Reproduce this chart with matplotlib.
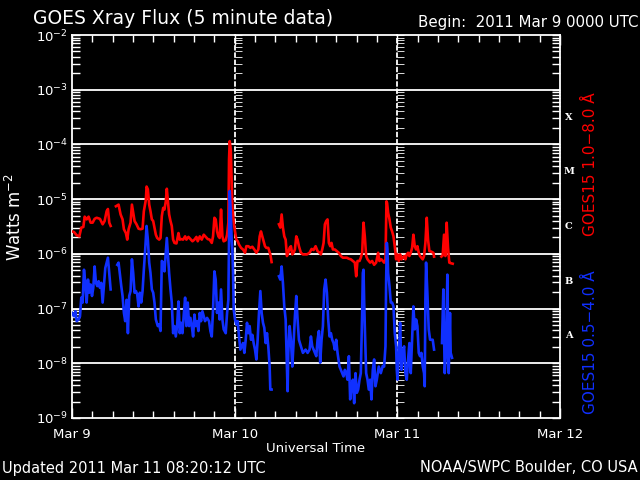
import numpy as np
import matplotlib
matplotlib.use("Agg")
import matplotlib.pyplot as plt
from matplotlib.ticker import LogLocator, NullFormatter, MultipleLocator

nan = np.nan

# hours after 2011 Mar 9 00:00 UT, log10 of flux (W m^-2); nan = data gap
long_t = [0.00, 0.29, 0.69, 1.08, 1.37, 1.67, 1.87, 2.16, 2.45, 2.75, 3.04, 3.34, 3.63, 4.12, 4.52,
          4.81, 5.11, 5.30, 5.50, 5.70, 6.00, 6.48, 6.87, 7.17, 7.46, 7.66, 7.95, 8.15, 8.35, 8.64,
          8.84, 9.03, 9.23, 9.52, 9.82, 10.11, 10.41, 10.60, 10.90, 11.00, 11.19, 11.39, 11.58, 11.78, 11.98,
          12.17, 12.37, 12.57, 12.86, 13.06, 13.25, 13.45, 13.64, 13.84, 13.99, 14.33, 14.53, 14.72, 14.92, 15.12,
          15.41, 15.71, 15.90, 16.10, 16.39, 16.69, 16.88, 17.18, 17.47, 17.77, 18.06, 18.36, 18.55, 18.85, 19.14,
          19.44, 19.73, 20.03, 20.32, 20.62, 20.81, 21.01, 21.20, 21.40, 21.60, 21.79, 21.99, 22.19, 22.38, 22.68,
          22.88, 23.07, 23.17, 23.27, 23.42, 23.56, 23.66, 23.86, 24.05, 24.25, 24.45, 24.64, 24.94, 25.23, 25.53,
          25.72, 26.02, 26.31, 26.61, 26.90, 27.20, 27.49, 27.69, 27.88, 28.08, 28.28, 28.47, 28.67, 28.96, 29.26,
          29.45, 30.00, 30.53, 30.73, 30.93, 31.12, 31.32, 31.52, 31.71, 31.91, 32.11, 32.30, 32.50, 32.69, 32.89,
          33.09, 33.28, 33.48, 33.77, 34.07, 34.46, 34.66, 35.05, 35.35, 35.64, 35.94, 36.23, 36.53, 36.72, 36.92,
          37.12, 37.31, 37.51, 37.70, 37.90, 38.10, 38.29, 38.49, 38.78, 39.08, 39.37, 39.67, 39.96, 40.26, 40.55,
          40.85, 41.14, 41.44, 41.73, 41.93, 42.12, 42.42, 42.61, 42.81, 43.01, 43.20, 43.40, 43.60, 43.79, 43.99,
          44.28, 44.58, 44.87, 45.17, 45.36, 45.66, 45.86, 46.05, 46.25, 46.40, 46.49, 46.64, 46.84, 47.03, 47.23,
          47.43, 47.62, 47.82, 48.02, 48.21, 48.41, 48.61, 48.80, 49.00, 49.19, 49.39, 49.59, 49.78, 49.98, 50.18,
          50.37, 50.57, 50.77, 50.96, 51.16, 51.35, 51.55, 51.75, 51.94, 52.14, 52.34, 52.53, 52.73, 53.02, 53.32,
          53.42, 54.00, 54.50, 54.69, 54.89, 55.09, 55.28, 55.48, 55.67, 55.87, 56.17]
long_log = [-5.59, -5.60, -5.66, -5.68, -5.52, -5.51, -5.32, -5.37, -5.32, -5.43, -5.43, -5.36, -5.34, -5.36, -5.46,
            -5.40, -5.22, -5.18, -5.43, -5.49, nan, -5.13, -5.10, -5.28, -5.37, -5.55, -5.62, -5.74, -5.55, -5.43,
            -5.10, -5.25, -5.40, -5.46, -5.54, -5.55, -5.54, -5.22, -5.01, -4.77, -4.82, -5.10, -5.22, -5.37, -5.40,
            -5.52, -5.65, -5.71, -5.74, -5.71, -5.31, -5.16, -5.19, -5.04, -4.81, -5.28, -5.40, -5.49, -5.74, -5.80,
            -5.81, -5.62, -5.74, -5.73, -5.74, -5.68, -5.74, -5.69, -5.73, -5.77, -5.74, -5.69, -5.77, -5.68, -5.74,
            -5.65, -5.69, -5.73, -5.74, -5.80, -5.68, -5.34, -5.37, -5.59, -5.68, -5.71, -5.19, -5.68, -5.77, -5.75,
            -5.65, -5.43, -4.27, -3.94, -4.09, -4.70, -5.13, -5.43, -5.59, -5.74, -5.77, -5.83, -5.89, -5.92, -5.98,
            -5.86, -5.86, -5.89, -5.87, -5.92, -5.98, -5.92, -5.68, -5.59, -5.68, -5.77, -5.86, -5.89, -5.89, -6.01,
            -6.15, nan, -5.46, -5.52, -5.28, -5.52, -5.68, -5.74, -6.04, -5.98, -5.89, -5.86, -6.01, -5.98, -5.92,
            -5.68, -5.74, -5.86, -5.98, -6.01, -6.01, -6.01, -5.98, -5.91, -5.93, -5.86, -5.95, -5.98, -6.01, -5.92,
            -5.80, -5.46, -5.40, -5.37, -5.80, -5.86, -5.80, -5.92, -5.92, -5.95, -5.98, -6.04, -6.07, -6.07, -6.07,
            -6.09, -6.10, -6.13, -6.16, -6.41, -6.13, -6.13, -6.07, -5.98, -5.43, -5.68, -6.04, -6.10, -6.13, -6.16,
            -6.13, -6.20, -6.16, -5.98, -6.13, -6.10, -6.13, -6.16, -6.10, -5.04, -5.07, -5.25, -5.37, -5.52, -5.59,
            -5.68, -5.86, -6.10, -6.01, -6.13, -6.01, -6.10, -6.07, -6.04, -6.10, -6.01, -5.98, -6.04, -5.98, -5.89,
            -5.65, -5.86, -5.92, -5.86, -5.98, -6.04, -6.07, -6.10, -6.04, -5.80, -5.34, -5.74, -5.95, -5.96, -5.98,
            -6.05, nan, -6.05, -6.03, -5.65, -6.04, -5.43, -5.89, -6.16, -6.17, -6.18]

short_t = [0.00, 0.29, 0.49, 0.69, 0.98, 1.18, 1.37, 1.57, 1.77, 1.96, 2.16, 2.36, 2.55, 2.75, 2.95,
           3.14, 3.34, 3.53, 3.73, 3.93, 4.12, 4.32, 4.52, 4.71, 4.91, 5.11, 5.30, 5.50, 5.70, 6.00,
           6.68, 6.87, 7.07, 7.27, 7.46, 7.66, 7.85, 8.05, 8.25, 8.44, 8.64, 8.84, 9.03, 9.23, 9.43,
           9.62, 9.82, 10.01, 10.21, 10.41, 10.60, 10.80, 11.00, 11.19, 11.39, 11.58, 11.78, 11.98, 12.17, 12.37,
           12.66, 12.86, 13.06, 13.25, 13.45, 13.64, 13.84, 13.99, 14.33, 14.53, 14.72, 14.92, 15.12, 15.31, 15.51,
           15.71, 15.90, 16.10, 16.30, 16.49, 16.69, 16.88, 17.08, 17.28, 17.47, 17.67, 17.87, 18.06, 18.26, 18.46,
           18.65, 18.85, 19.04, 19.24, 19.44, 19.63, 19.93, 20.22, 20.42, 20.62, 20.81, 21.01, 21.20, 21.40, 21.60,
           21.79, 21.99, 22.19, 22.38, 22.68, 22.88, 23.07, 23.17, 23.27, 23.42, 23.56, 23.66, 23.76, 23.86, 24.05,
           24.25, 24.45, 24.64, 24.84, 25.04, 25.23, 25.43, 25.63, 25.82, 26.02, 26.21, 26.41, 26.61, 26.80, 27.00,
           27.20, 27.39, 27.59, 27.79, 27.98, 28.18, 28.37, 28.57, 28.77, 28.96, 29.16, 29.26, 29.45, 30.00, 30.53,
           30.73, 30.93, 31.12, 31.32, 31.52, 31.71, 31.81, 31.91, 32.11, 32.30, 32.50, 32.69, 32.89, 33.09, 33.28,
           33.48, 33.77, 34.07, 34.46, 34.76, 35.05, 35.25, 35.45, 35.64, 35.84, 36.04, 36.23, 36.43, 36.62, 36.82,
           37.02, 37.21, 37.41, 37.61, 37.80, 38.00, 38.20, 38.39, 38.59, 38.78, 38.98, 39.18, 39.47, 39.67, 39.86,
           40.06, 40.26, 40.45, 40.65, 40.85, 41.04, 41.24, 41.44, 41.63, 41.83, 42.02, 42.22, 42.42, 42.61, 42.81,
           42.91, 43.01, 43.10, 43.20, 43.40, 43.60, 43.79, 43.99, 44.18, 44.38, 44.58, 44.77, 44.97, 45.26, 45.56,
           45.85, 46.05, 46.25, 46.35, 46.45, 46.54, 46.64, 46.84, 47.03, 47.23, 47.43, 47.62, 47.82, 47.92, 48.02,
           48.21, 48.41, 48.61, 48.80, 49.00, 49.19, 49.39, 49.59, 49.78, 49.98, 50.18, 50.37, 50.57, 50.77, 50.96,
           51.16, 51.35, 51.55, 51.75, 51.94, 52.04, 52.14, 52.24, 52.43, 52.63, 52.83, 53.02, 53.22, 53.42, 54.00,
           54.59, 54.79, 54.99, 55.18, 55.38, 55.58, 55.77, 55.87, 56.07]
short_log = [-7.08, -7.14, -7.05, -7.23, -7.20, -7.14, -6.80, -6.89, -6.29, -6.53, -6.89, -6.47, -6.71, -6.56, -6.77,
             -6.62, -6.23, -6.53, -6.59, -6.50, -6.62, -6.53, -6.89, -6.59, -6.26, -6.16, -6.07, -6.35, -6.65, nan,
             -6.20, -6.16, -6.38, -6.59, -6.77, -7.08, -7.23, -6.84, -7.45, -6.77, -6.68, -6.10, -6.35, -6.71, -6.68,
             -6.74, -6.96, -6.71, -6.89, -6.68, -6.29, -5.92, -5.49, -5.74, -6.16, -6.35, -6.65, -6.71, -6.89, -7.20,
             -7.32, -7.29, -7.41, -6.13, -6.16, -6.32, -5.98, -5.71, -6.35, -6.65, -6.89, -7.45, -7.32, -7.51, -7.32,
             -6.87, -7.45, -7.26, -7.45, -7.11, -6.80, -7.32, -6.89, -7.32, -7.17, -7.32, -7.51, -7.11, -7.32, -7.23,
             -7.41, -7.08, -7.23, -7.05, -7.14, -7.23, -7.17, -7.23, -7.41, -7.51, -7.02, -6.32, -6.47, -7.08, -6.89,
             -7.20, -6.65, -7.20, -7.38, -7.45, -7.08, -6.84, -5.74, -4.85, -5.25, -5.74, -5.92, -6.35, -7.02, -7.20,
             -7.29, -7.23, -7.51, -7.75, -7.69, -7.63, -7.81, -7.57, -7.26, -7.45, -7.32, -7.57, -7.48, -7.63, -7.75,
             -7.93, -7.57, -7.08, -6.68, -7.08, -7.26, -7.35, -7.63, -7.45, -7.69, -8.06, -8.48, -8.48, nan, -6.41,
             -6.47, -6.23, -6.53, -6.96, -7.20, -8.06, -8.51, -7.81, -7.32, -7.57, -8.06, -7.63, -7.14, -6.77, -7.20,
             -7.57, -7.69, -7.81, -7.75, -7.81, -7.75, -7.51, -7.69, -7.75, -7.81, -7.87, -7.57, -7.41, -7.99, -7.57,
             -7.32, -6.65, -6.47, -6.71, -7.20, -7.51, -7.45, -7.57, -7.63, -7.75, -7.57, -7.81, -8.06, -8.12, -8.18,
             -8.24, -8.12, -8.18, -8.30, -7.87, -8.66, -8.42, -8.30, -8.73, -8.18, -8.54, -8.48, -8.30, -8.18, -7.08,
             -6.35, -6.29, -6.84, -7.32, -8.18, -8.30, -8.48, -8.30, -8.66, -8.12, -7.93, -8.42, -8.30, -8.06, -8.18,
             -8.05, -8.06, -7.69, -6.47, -5.80, -5.92, -6.35, -6.59, -6.89, -6.89, -6.96, -7.45, -7.69, -8.12, -8.30,
             -7.87, -7.26, -8.12, -7.81, -7.69, -8.18, -8.30, -7.93, -7.63, -8.18, -7.57, -6.96, -7.38, -7.20, -7.32,
             -7.81, -7.87, -7.81, -8.06, -8.18, -8.42, -6.84, -6.16, -6.71, -7.38, -7.57, -7.57, -7.57, -7.75, nan,
             -7.63, -6.65, -8.18, -7.81, -6.38, -8.18, -7.08, -7.81, -7.90]

day_ticks = [0, 24, 48, 72]
day_labels = ["Mar 9", "Mar 10", "Mar 11", "Mar 12"]
decades = [-9, -8, -7, -6, -5, -4, -3, -2]
flare_classes = ["A", "B", "C", "M", "X"]
class_log = [-7.5, -6.5, -5.5, -4.5, -3.5]

red = "#ff0000"
blue = "#1030ff"
white = "white"

fig = plt.figure(figsize=(6.4, 4.8), dpi=100, facecolor="black")
ax = fig.add_axes([72 / 640, 62 / 480, 488 / 640, 383 / 480])
ax.set_facecolor("black")

ax.plot(long_t, 10 ** np.array(long_log), color=red, lw=1.9, zorder=3)
ax.plot(short_t, 10 ** np.array(short_log), color=blue, lw=1.9, zorder=3)

ax.set_yscale("log")
ax.set_ylim(1e-9, 1e-2)
ax.set_xlim(0, 72)

# horizontal decade lines
for d in decades[1:-1]:
    ax.axhline(10.0 ** d, color=white, lw=1.3, zorder=2)

ax.set_yticks([10.0 ** d for d in decades])
ax.set_yticklabels([r"10$^{%d}$" % d for d in decades])
ax.yaxis.set_minor_locator(LogLocator(base=10, subs=range(2, 10), numticks=20))
ax.yaxis.set_minor_formatter(NullFormatter())
ax.set_xticks(day_ticks)
ax.set_xticklabels(day_labels)
ax.xaxis.set_minor_locator(MultipleLocator(3))

ax.tick_params(which="both", direction="in", colors=white, top=True, right=True, width=1)
ax.tick_params(axis="y", which="both", length=6, labelsize=9.5, pad=3)
ax.tick_params(axis="x", which="major", length=7, labelsize=9.5, pad=7)
ax.tick_params(axis="x", which="minor", length=5)
for sp in ax.spines.values():
    sp.set_color(white)
    sp.set_linewidth(1.3)

# dotted day boundaries with their own ticks
for loc in [1 / 3, 2 / 3]:
    sec = ax.secondary_yaxis(loc)
    sec.yaxis.set_ticks_position("left")
    sec.set_yticks([10.0 ** d for d in decades])
    sec.yaxis.set_minor_locator(LogLocator(base=10, subs=range(2, 10), numticks=20))
    sec.yaxis.set_minor_formatter(NullFormatter())
    sec.tick_params(which="both", direction="in", length=5, colors=white, labelleft=False, labelright=False)
    for sp in sec.spines.values():
        sp.set_color(white)
        sp.set_linestyle((0, (2, 2)))
        sp.set_linewidth(1.3)

# flare class letters on the right
for c, v in zip(flare_classes, class_log):
    ax.text(1.018, 10 ** v, c, transform=ax.get_yaxis_transform(), color=white,
            fontsize=7, fontweight="bold", family="DejaVu Serif", ha="center", va="center")

fig.text(33 / 640, 1 - 18 / 480, "GOES Xray Flux (5 minute data)", color=white, fontsize=13.5,
         ha="left", va="center")
fig.text(638 / 640, 1 - 22 / 480, "Begin:  2011 Mar 9 0000 UTC", color=white, fontsize=10.8,
         ha="right", va="center")
fig.text(15 / 640, 1 - 217 / 480, r"Watts m$^{-2}$", color=white, fontsize=12, rotation=90,
         ha="center", va="center")
fig.text(316 / 640, 1 - 449 / 480, "Universal Time", color=white, fontsize=9.5, ha="center", va="center")
fig.text(2 / 640, 1 - 468 / 480, "Updated 2011 Mar 11 08:20:12 UTC", color=white, fontsize=10.5,
         ha="left", va="center")
fig.text(638 / 640, 1 - 468 / 480, "NOAA/SWPC Boulder, CO USA", color=white, fontsize=10.5,
         ha="right", va="center")
fig.text(590 / 640, 1 - 164 / 480, "GOES15 1.0\u22128.0 \u00c5", color=red, fontsize=11,
         rotation=90, ha="center", va="center")
fig.text(590 / 640, 1 - 342 / 480, "GOES15 0.5\u22124.0 \u00c5", color=blue, fontsize=11,
         rotation=90, ha="center", va="center")

fig.savefig("out.png", dpi=100, facecolor="black")
